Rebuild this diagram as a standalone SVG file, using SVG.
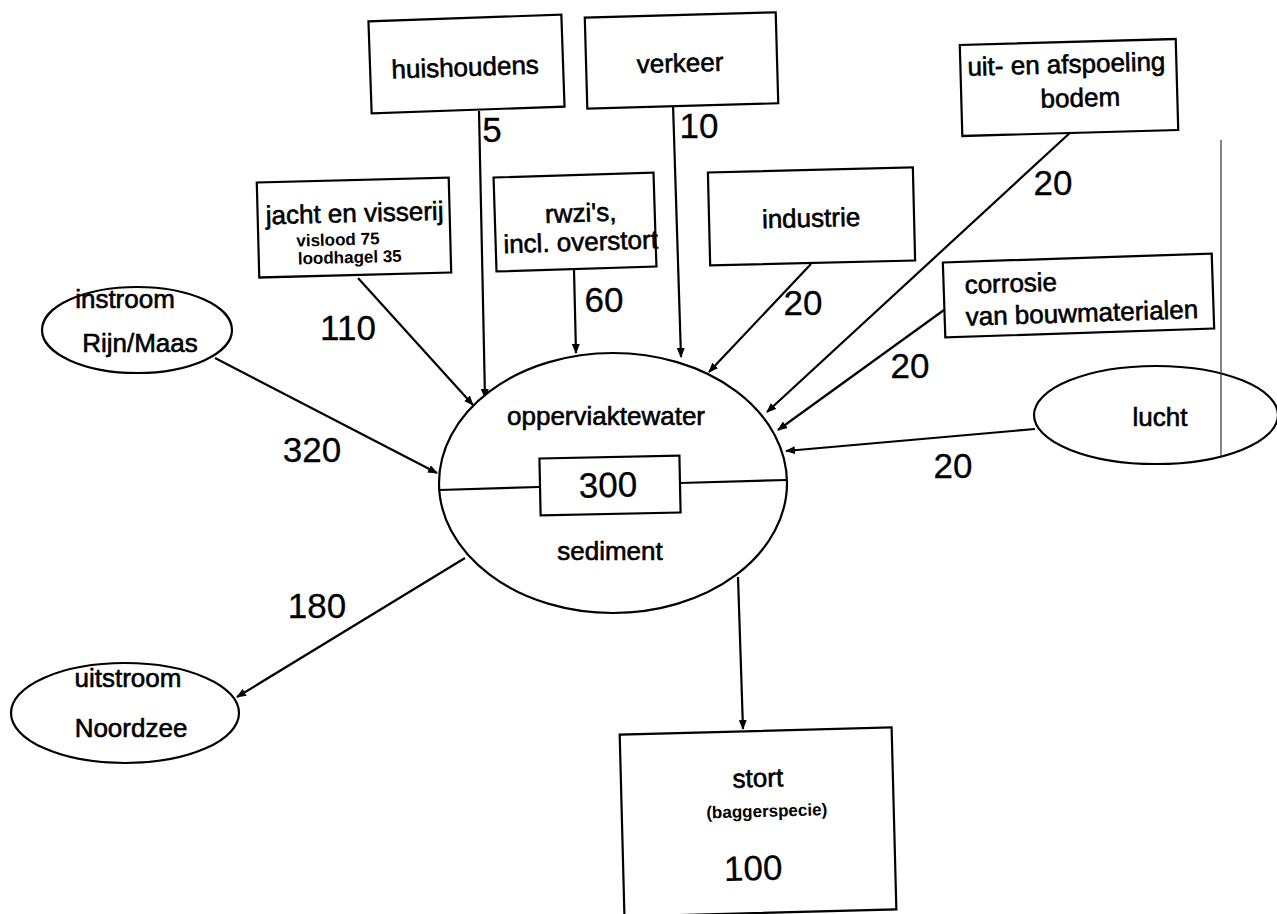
<svg xmlns="http://www.w3.org/2000/svg" width="1277" height="914" viewBox="0 0 1277 914">
<defs>
<style>
.box{fill:#fff;stroke:#000;stroke-width:2.2}
.ell{fill:#fff;stroke:#000;stroke-width:2.2}
.t{font-family:"Liberation Sans",Arial,sans-serif;font-size:26px;fill:#000;stroke:#000;stroke-width:0.6;text-anchor:middle}
.s{font-family:"Liberation Sans",Arial,sans-serif;font-size:17px;font-weight:bold;fill:#000;text-anchor:start}
.n{font-family:"Liberation Sans",Arial,sans-serif;font-size:35px;fill:#000;stroke:#000;stroke-width:0.3;text-anchor:middle}
.c{fill:none;stroke:#000;stroke-width:2.2}
</style>
<marker id="ah" markerUnits="userSpaceOnUse" markerWidth="10" markerHeight="8" refX="9" refY="4" orient="auto">
<path d="M0,0 L10,4 L0,8 z" fill="#000"/>
</marker>
</defs>
<rect x="0" y="0" width="1277" height="914" fill="#fff"/>

<g id="connectors">
<line class="c" x1="358" y1="278" x2="473" y2="405" marker-end="url(#ah)"/>
<line class="c" x1="479" y1="111" x2="485" y2="398" marker-end="url(#ah)"/>
<line class="c" x1="574" y1="270" x2="576" y2="353" marker-end="url(#ah)"/>
<line class="c" x1="673" y1="104" x2="681" y2="357" marker-end="url(#ah)"/>
<line class="c" x1="811" y1="264" x2="709" y2="372" marker-end="url(#ah)"/>
<line class="c" x1="1072" y1="131" x2="767" y2="412" marker-end="url(#ah)"/>
<line class="c" x1="944" y1="310" x2="778" y2="430" marker-end="url(#ah)"/>
<line class="c" x1="1035" y1="429" x2="786" y2="451" marker-end="url(#ah)"/>
<line class="c" x1="215" y1="358" x2="437" y2="473" marker-end="url(#ah)"/>
<line class="c" x1="465" y1="558" x2="237" y2="697" marker-end="url(#ah)"/>
<line class="c" x1="738" y1="577" x2="743" y2="729" marker-end="url(#ah)"/>
</g>

<g id="edge-labels">
<text class="n" x="492" y="142">5</text>
<text class="n" x="699" y="138">10</text>
<text class="n" x="1053" y="195">20</text>
<text class="n" x="348" y="340">110</text>
<text class="n" x="604" y="312">60</text>
<text class="n" x="803" y="315">20</text>
<text class="n" x="910" y="378">20</text>
<text class="n" x="312" y="462">320</text>
<text class="n" x="953" y="478">20</text>
<text class="n" x="317" y="618">180</text>
</g>

<g id="oppervlaktewater">
<ellipse class="ell" cx="613" cy="483" rx="174" ry="130"/>
<line class="c" x1="439" y1="490" x2="539" y2="487"/>
<line class="c" x1="680" y1="483" x2="787" y2="480"/>
<text class="t" x="606" y="425">opperviaktewater</text>
<text class="t" x="610" y="560">sediment</text>
</g>

<g id="voorraad" transform="rotate(-1.2 610 485)">
<rect class="box" x="540" y="457" width="140" height="57"/>
<text class="n" x="608" y="497">300</text>
</g>

<g id="huishoudens" transform="rotate(-2 466 64)">
<rect class="box" x="370" y="18" width="193" height="92"/>
<text class="t" x="465" y="76">huishoudens</text>
</g>

<g id="verkeer" transform="rotate(-1.6 681 60)">
<rect class="box" x="586" y="15" width="191" height="91"/>
<text class="t" x="680" y="72">verkeer</text>
</g>

<g id="jacht" transform="rotate(-1.5 354 228)">
<rect class="box" x="258" y="180" width="192" height="95"/>
<text class="t" x="355" y="222">jacht en visserij</text>
<text class="s" x="296" y="245">vislood 75</text>
<text class="s" x="297" y="263">loodhagel 35</text>
</g>

<g id="rwzi" transform="rotate(-1.8 575 222)">
<rect class="box" x="495" y="175" width="160" height="94"/>
<text class="t" x="581" y="222">rwzi's,</text>
<text class="t" x="580" y="251">incl. overstort</text>
</g>

<g id="industrie" transform="rotate(-1.4 811 216)">
<rect class="box" x="709" y="170" width="205" height="93"/>
<text class="t" x="811" y="227">industrie</text>
</g>

<g id="bodem" transform="rotate(-1.6 1069 87)">
<rect class="box" x="961" y="42" width="216" height="91"/>
<text class="t" x="1067" y="73">uit- en afspoeling</text>
<text class="t" x="1080" y="107">bodem</text>
</g>

<g id="corrosie" transform="rotate(-1.9 1078 295)">
<rect class="box" x="944" y="258" width="269" height="75"/>
<text class="t" x="965" y="290" style="text-anchor:start">corrosie</text>
<text class="t" x="965" y="322" style="text-anchor:start">van bouwmaterialen</text>
</g>

<g id="instroom">
<ellipse class="ell" cx="137" cy="330" rx="95" ry="43"/>
<text class="t" x="125" y="308">instroom</text>
<text class="t" x="140" y="352">Rijn/Maas</text>
</g>

<g id="lucht">
<ellipse class="ell" cx="1156" cy="415" rx="122" ry="49"/>
<text class="t" x="1160" y="426">lucht</text>
</g>

<g id="uitstroom">
<ellipse class="ell" cx="125" cy="713" rx="114" ry="50"/>
<text class="t" x="128" y="687">uitstroom</text>
<text class="t" x="131" y="737">Noordzee</text>
</g>

<g id="stort" transform="rotate(-1.5 758 821)">
<rect class="box" x="622" y="731" width="272" height="182"/>
<text class="t" x="759" y="787">stort</text>
<text class="s" x="767" y="817" style="text-anchor:middle">(baggerspecie)</text>
<text class="n" x="752" y="880">100</text>
</g>

<line x1="1221" y1="140" x2="1221" y2="458" stroke="#333" stroke-width="1.2"/>
</svg>
